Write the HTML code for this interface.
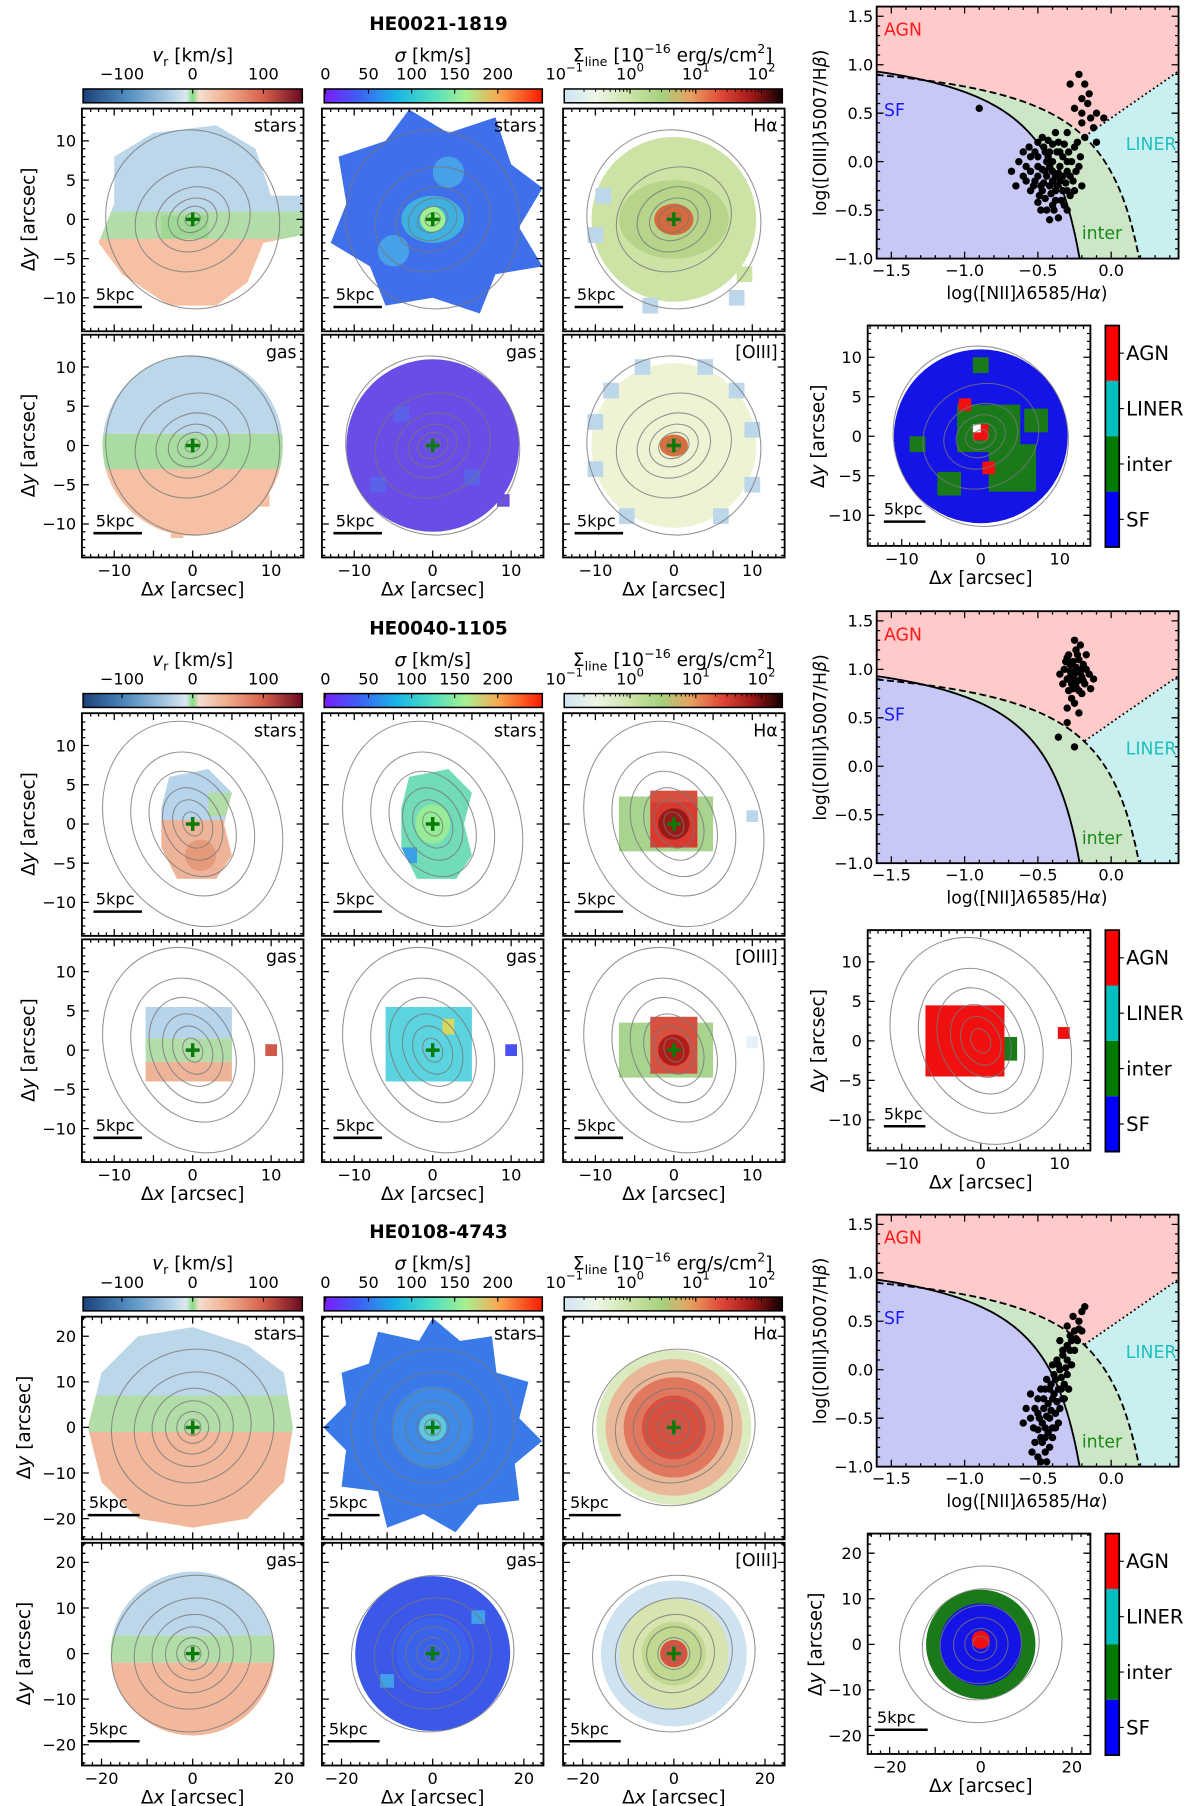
<!DOCTYPE html>
<html><head><meta charset="utf-8">
<style>
html,body{margin:0;padding:0;background:#fff;}
svg{display:block;font-family:"DejaVu Sans","Liberation Sans",sans-serif;}
</style></head>
<body>
<svg id="fig" xmlns="http://www.w3.org/2000/svg" width="1200" height="1806" viewBox="0 0 1040 1565">
<defs>
<linearGradient id="gVr" x1="0" x2="1" y1="0" y2="0">
<stop offset="0" stop-color="#1b4079"/><stop offset="0.2" stop-color="#4f8cc0"/><stop offset="0.4" stop-color="#b3d0e6"/><stop offset="0.47" stop-color="#dde9f0"/><stop offset="0.5" stop-color="#86dc86"/><stop offset="0.53" stop-color="#f6ddd0"/><stop offset="0.65" stop-color="#f0b090"/><stop offset="0.82" stop-color="#d8604c"/><stop offset="1" stop-color="#6a0a20"/>
</linearGradient>
<linearGradient id="gSig" x1="0" x2="1" y1="0" y2="0">
<stop offset="0" stop-color="#7a1cff"/><stop offset="0.15" stop-color="#3f5cf5"/><stop offset="0.33" stop-color="#18b4e6"/><stop offset="0.5" stop-color="#50e0c0"/><stop offset="0.65" stop-color="#a8f090"/><stop offset="0.8" stop-color="#f8a850"/><stop offset="1" stop-color="#ff1a00"/>
</linearGradient>
<linearGradient id="gSl" x1="0" x2="1" y1="0" y2="0">
<stop offset="0" stop-color="#cfe4f4"/><stop offset="0.15" stop-color="#eef6e6"/><stop offset="0.3" stop-color="#cde4a8"/><stop offset="0.45" stop-color="#a6d07c"/><stop offset="0.58" stop-color="#e8a060"/><stop offset="0.72" stop-color="#e04838"/><stop offset="0.86" stop-color="#a01818"/><stop offset="1" stop-color="#100000"/>
</linearGradient>
</defs>
</svg>
<script>
// ---------- data ----------
const galaxyNames = ['HE0021-1819', 'HE0040-1105', 'HE0108-4743'];
const vrTicks = [-100, 0, 100];
const sigmaTicks = [0, 50, 100, 150, 200];
const lineTicksExp = [-1, 0, 1, 2];
const bptXTicks = [-1.5, -1.0, -0.5, 0.0];
const bptYTicks = [-1.0, -0.5, 0.0, 0.5, 1.0, 1.5];
const mapTicksSmall = [-10, -5, 0, 5, 10];
const mapTicksLarge = [-20, -10, 0, 10, 20];
const classLabels = ['AGN', 'LINER', 'inter', 'SF'];
const bpt1Points = [[-0.45,-0.1],[-0.4,0],[-0.35,-0.2],[-0.5,-0.05],[-0.42,0.1],[-0.38,-0.3],[-0.3,-0.1],[-0.55,0.05],[-0.48,-0.25],[-0.33,0.05],[-0.28,-0.35],[-0.6,-0.15],[-0.4,-0.45],[-0.36,0.2],[-0.25,0.15],[-0.5,0.2],[-0.44,-0.5],[-0.32,-0.45],[-0.22,-0.05],[-0.63,0.0],[-0.3,0.3],[-0.2,0.4],[-0.25,0.55],[-0.15,0.7],[-0.18,0.25],[-0.1,0.5],[-0.28,0.8],[-0.12,0.35],[-0.36,-0.58],[-0.42,-0.6],[-0.55,-0.3],[-0.47,0.25],[-0.38,0.3],[-0.2,-0.25],[-0.58,-0.2],[-0.68,-0.1],[-0.3,-0.5],[-0.45,-0.38],[-0.4,-0.2],[-0.35,-0.05],[-0.5,-0.15],[-0.43,0.05],[-0.33,-0.3],[-0.27,0.0],[-0.23,0.2],[-0.05,0.45],[-0.16,0.6],[-0.1,0.2],[-0.22,0.9],[-0.2,0.5],[-0.9,0.55],[-0.38,-0.15],[-0.46,-0.22],[-0.41,-0.33],[-0.52,0.1],[-0.44,0.0],[-0.37,0.1],[-0.49,-0.35],[-0.31,-0.22],[-0.4,-0.1],[-0.46,0.15],[-0.34,-0.4],[-0.53,-0.25],[-0.29,0.1],[-0.39,-0.5],[-0.47,-0.08],[-0.42,-0.25],[-0.36,-0.12],[-0.5,-0.42],[-0.26,-0.2],[-0.55,-0.1],[-0.5,0.05],[-0.45,0.1],[-0.35,0.1],[-0.3,-0.3],[-0.28,-0.15],[-0.25,-0.3],[-0.4,0.18],[-0.32,0.18],[-0.52,-0.2],[-0.44,-0.15],[-0.38,-0.4],[-0.48,-0.5],[-0.6,0.1],[-0.58,-0.05],[-0.33,-0.15],[-0.42,-0.05],[-0.37,-0.25],[-0.47,-0.3],[-0.56,0.15],[-0.43,0.22],[-0.24,-0.1],[-0.21,0.05],[-0.3,0.0],[-0.65,-0.25],[-0.2,0.65],[-0.14,0.45],[-0.18,0.8]];
const bpt2Points = [[-0.25,0.95],[-0.2,1.0],[-0.3,0.9],[-0.22,1.1],[-0.28,1.05],[-0.18,0.85],[-0.26,0.8],[-0.24,1.2],[-0.32,1.0],[-0.15,0.95],[-0.2,0.75],[-0.27,0.7],[-0.23,0.88],[-0.29,1.15],[-0.21,1.25],[-0.19,1.05],[-0.33,0.85],[-0.25,0.65],[-0.14,0.8],[-0.3,0.6],[-0.25,1.3],[-0.17,1.15],[-0.35,0.95],[-0.22,0.55],[-0.3,0.45],[-0.36,0.3],[-0.25,0.2],[-0.12,0.9],[-0.28,0.98],[-0.2,0.92],[-0.24,1.02],[-0.27,0.85],[-0.22,0.78],[-0.31,1.08],[-0.26,0.9],[-0.21,0.97],[-0.23,1.15],[-0.29,0.78],[-0.26,1.08],[-0.19,0.88],[-0.24,0.82],[-0.28,0.92],[-0.17,1.0],[-0.3,1.12]];
const bpt3Points = [[-0.5,-0.9],[-0.48,-0.7],[-0.45,-0.6],[-0.42,-0.5],[-0.5,-0.45],[-0.4,-0.3],[-0.45,-0.2],[-0.38,-0.1],[-0.35,0.0],[-0.4,0.05],[-0.33,0.15],[-0.3,0.25],[-0.28,0.35],[-0.25,0.4],[-0.22,0.5],[-0.2,0.6],[-0.18,0.65],[-0.3,0.1],[-0.36,-0.2],[-0.43,-0.35],[-0.47,-0.55],[-0.52,-0.75],[-0.55,-0.5],[-0.42,-0.8],[-0.38,-0.45],[-0.33,-0.3],[-0.3,-0.05],[-0.27,0.05],[-0.25,0.2],[-0.23,0.3],[-0.2,0.4],[-0.46,-0.4],[-0.5,-0.3],[-0.4,-0.6],[-0.35,-0.4],[-0.44,-0.1],[-0.37,0.1],[-0.32,-0.15],[-0.48,-0.95],[-0.45,-0.85],[-0.53,-0.6],[-0.3,0.45],[-0.26,0.55],[-0.41,-0.15],[-0.39,-0.25],[-0.29,-0.2],[-0.55,-0.25],[-0.58,-0.4],[-0.6,-0.55],[-0.35,0.3],[-0.43,-0.65],[-0.47,-0.75],[-0.41,-0.42],[-0.37,-0.33],[-0.34,-0.08],[-0.31,0.02],[-0.28,0.2],[-0.24,0.32],[-0.5,-0.62],[-0.44,-0.48],[-0.46,-0.3],[-0.42,-0.2],[-0.39,-0.05],[-0.36,0.05],[-0.33,0.2],[-0.45,-0.7],[-0.49,-0.5],[-0.52,-0.4],[-0.4,-0.7],[-0.36,-0.55],[-0.32,-0.3],[-0.48,-0.2],[-0.44,-0.95],[-0.54,-0.85],[-0.27,0.3],[-0.22,0.42],[-0.34,-0.2],[-0.38,-0.6]];
const bptPoints = [bpt1Points, bpt2Points, bpt3Points];

// ---------- helpers ----------
const NS = 'http://www.w3.org/2000/svg';
const svg = document.getElementById('fig');
function mk(tag, attrs, parent) {
  const e = document.createElementNS(NS, tag);
  for (const k in attrs) e.setAttribute(k, attrs[k]);
  (parent || svg).appendChild(e);
  return e;
}
function txt(str, attrs, parent) { const e = mk('text', attrs, parent); e.textContent = str; return e; }
const minus = s => String(s).replace('-', '\u2212');
const FS = 14;
let clipId = 0;

// ---------- map panels ----------
const offsets = [0, 524, 1047];
const colX = [71, 279, 488];
const PW = 192, PH = 193;
const scales = [6.8, 6.8, 3.95];
const contours = [
  [[1,0.8],[2,1.6],[3.2,2.6],[4.8,4],[7.5,6.5],[11,11.5]],
  [[1.2,1.6],[2.4,3.2],[3.6,4.8],[5.2,7],[7.5,9.5],[11,13.5]],
  [[1.8,1.8],[3.5,3.5],[6,5.8],[9,8.5],[13,12],[18,17]]
];
const bigStar = [[-20,12],[-14,14],[-12,21],[-3,19],[0,24],[6,19],[13,20],[14,12],[21,10],[19,2],[24,-3],[18,-8],[19,-16],[10,-17],[5,-23],[-2,-19],[-10,-22],[-12,-14],[-20,-13],[-19,-5],[-24,0],[-19,5]];
const content = [
 [ // G1
  [ {clip:['poly',[[-10,8],[-5,11],[3,12],[8,9],[10,3],[14,3],[14,-2],[9,-3],[7,-8],[3,-11],[-3,-11],[-9,-7],[-12,-3],[-10,2]]],
     items:[['band',1,40,'#bcd6ea'],['band',-2.5,1,'#b2dca8'],['band',-40,-2.5,'#f5c0a4'],['sq',-1,-1,6,3,'#9fd894']]},
    {clip:['poly',[[-12,8],[-6,10],[-3,14],[2,11],[8,13],[10,7],[14,4],[11,-1],[14,-6],[8,-7],[6,-12],[0,-10],[-6,-11],[-8,-6],[-13,-3],[-11,2]]],
     items:[['band',-40,40,'#3f6fea'],['ell',0,0,4,3,'#40b0e0'],['ell',0,0,1.6,1.6,'#a0f090'],['ell',-5,-4,2,2,'#48a0e8'],['ell',2,6,2,2,'#48a0e8']]},
    {clip:['circ',10.5],
     items:[['band',-40,40,'#cde3a6'],['ell',0,0,7,5,'#b6d48a'],['ell',0,0,2.5,2,'#d66a3c'],['usq',-10,-2,2,2,'#bdd6ea'],['usq',-9,3,2,2,'#bdd6ea'],['usq',8,-10,2,2,'#bdd6ea'],['usq',-3,-11,2,2,'#bdd6ea'],['usq',9,-7,2,2,'#cde3a6']]} ],
  [ {clip:['circ',11.5],
     items:[['band',1.5,40,'#bcd6ea'],['band',-3,1.5,'#a8dca0'],['band',-40,-3,'#f5c0a4'],['usq',9,-7,1.6,1.6,'#f5c0a4'],['usq',-2,-11,1.6,1.6,'#f5c0a4']]},
    {clip:['circ',11],
     items:[['band',-40,40,'#6a4ce6'],['sq',-4,4,2,2,'#5a62ea'],['sq',5,-4,2,2,'#5a62ea'],['sq',-7,-5,2,2,'#5a62ea'],['usq',9,-7,1.6,1.6,'#6a4ce6']]},
    {clip:['circ',10.5],
     items:[['band',-40,40,'#eef3d4'],['ell',0,0,1.8,1.4,'#d6703e'],['usq',-8,7,2,2,'#bcd6ea'],['usq',-4,10,2,2,'#bcd6ea'],['usq',4,10,2,2,'#bcd6ea'],['usq',8,7,2,2,'#bcd6ea'],['usq',10,2,2,2,'#bcd6ea'],['usq',10,-5,2,2,'#bcd6ea'],['usq',6,-9,2,2,'#bcd6ea'],['usq',-6,-9,2,2,'#bcd6ea'],['usq',-10,-3,2,2,'#bcd6ea'],['usq',-10,3,2,2,'#bcd6ea']]} ]
 ],
 [ // G2
  [ {clip:['poly',[[-3,6],[2,7],[5,4],[4,0],[5,-4],[3,-7],[-2,-7],[-4,-3],[-4,2]]],
     items:[['band',0.5,40,'#b8d4ea'],['band',-40,0.5,'#eeb49a'],['sq',4,2.5,4,3,'#b2dca8'],['ell',1,-4,2,2,'#e59a7c']]},
    {clip:['poly',[[-3,6],[2,7],[5,4],[4,0],[5,-4],[3,-7],[-2,-7],[-4,-3],[-4,2]]],
     items:[['band',-40,40,'#72dcb8'],['ell',0,0,2.2,2.5,'#98ec98'],['sq',-3,-4,2,2,'#3aa0e8']]},
    {clip:['rect',-7,-3.5,5,3.5],
     items:[['band',-40,40,'#a8d490'],['sq',0,0.5,6,7,'#d83a30'],['ell',0,0,2,2,'#9a1a18'],['usq',10,1,1.5,1.5,'#bcd6ea'],['usq',0,3.5,6,1.5,'#d85040']]} ],
  [ {clip:['rect',-6,-4,5,5.5],
     items:[['band',1.5,40,'#b8d4ea'],['band',-1.5,1.5,'#b2dca8'],['band',-40,-1.5,'#eeb49a'],['usq',10,0,1.5,1.5,'#d05848']]},
    {clip:['rect',-6,-4,5,5.5],
     items:[['band',-40,40,'#5cd4e0'],['sq',2,3,1.5,2,'#d8d860'],['usq',10,0,1.5,1.5,'#4a50f0']]},
    {clip:['rect',-7,-3.5,5,3.5],
     items:[['band',-40,40,'#a8d490'],['sq',0,0.5,6,7,'#d85040'],['ell',0,0,2,2,'#b01c18'],['usq',0,3.5,6,1.5,'#d85040'],['usq',10,1,1.5,1.5,'#e6f0f6']]} ]
 ],
 [ // G3
  [ {clip:['poly',[[-20,12],[-12,20],[0,22],[12,18],[20,12],[22,0],[20,-12],[12,-20],[0,-22],[-12,-20],[-20,-12],[-23,0]]],
     items:[['band',7,40,'#bcd6ea'],['band',-1,7,'#b2dca8'],['band',-40,-1,'#f2b89c']]},
    {clip:['poly',bigStar],
     items:[['band',-40,40,'#3a7ae8'],['ell',0,0,9,9,'#3f8ae6'],['ell',0,0,3,3,'#60c8d8']]},
    {clip:['circ',17],
     items:[['band',-40,40,'#dceac0'],['ell',0,0,15,15,'#e9b898'],['ell',0,0,11,11,'#e07860'],['ell',0,0,7,7,'#d85040']]} ],
  [ {clip:['circ',18],
     items:[['band',4,40,'#bcd6ea'],['band',-2,4,'#b2dca8'],['band',-40,-2,'#f2b89c']]},
    {clip:['circ',17],
     items:[['band',-40,40,'#3c58e8'],['ell',0,0,8,8,'#3a62ea'],['sq',10,8,3,3,'#40a0e8'],['sq',-10,-6,3,3,'#40a0e8']]},
    {clip:['circ',17],
     items:[['band',-40,40,'#ffffff'],['ell',0,0,16,16,'#cfe2ef'],['ell',0,0,12,12,'#d8e4b0'],['ell',0,0,7,7,'#c0d890'],['ell',0,0,3,3,'#d85040']]} ]
 ]
];
const rightContent = [
  {clip:['circ',11], items:[['band',-40,40,'#1414e6'],['sq',1,1,8,6,'#1a7a1a'],['sq',4,-4,6,6,'#1a7a1a'],['sq',-4,-6,3,3,'#1a7a1a'],['sq',7,2,3,3,'#1a7a1a'],['sq',0,9,2,2,'#1a7a1a'],['sq',-8,-1,2,2,'#1a7a1a'],['sq',-2,4,1.6,1.6,'#f01010'],['sq',1,-4,1.6,1.6,'#f01010'],['sq',0,0.5,2,2,'#f01010'],['sq',-0.5,1,1,1,'#ffffff']]},
  {clip:['rect',-7,-4.5,3,4.5], items:[['band',-40,40,'#f01010'],['usq',3.8,-1,1.6,3,'#1a7a1a'],['usq',10.5,1,1.5,1.5,'#f01010']]},
  {clip:['circ',12], items:[['band',-40,40,'#1a7a1a'],['ell',0,0,9,9,'#1414e6'],['ell',0,1,2,2,'#f01010']]}
];

function drawMapContent(g, spec, px, py, s, px0, py0, w, h) {
  clipId++;
  const cp = mk('clipPath', {id: 'cp' + clipId}, g);
  const c = spec.clip;
  if (c[0] === 'circ') mk('circle', {cx: px(0), cy: py(0), r: c[1] * s}, cp);
  else if (c[0] === 'poly') mk('polygon', {points: c[1].map(p => px(p[0]) + ',' + py(p[1])).join(' ')}, cp);
  else mk('rect', {x: px(c[1]), y: py(c[4]), width: (c[3] - c[1]) * s, height: (c[4] - c[2]) * s}, cp);
  const inner = mk('g', {'clip-path': 'url(#cp' + clipId + ')'}, g);
  
  
  spec.items.forEach(it => {
    let e;
    if (it[0] === 'band') {
      e = mk('rect', {x: px0, y: Math.max(py0, py(it[2])), width: w, height: Math.max(0, Math.min(py0 + h, py(it[1])) - Math.max(py0, py(it[2]))), fill: it[3]}, inner);
    } else if (it[0] === 'sq' || it[0] === 'usq') {
      e = mk('rect', {x: px(it[1] - it[3] / 2), y: py(it[2] + it[4] / 2), width: it[3] * s, height: it[4] * s, fill: it[5]}, it[0] === 'sq' ? inner : g);
    } else {
      e = mk('ellipse', {cx: px(it[1]), cy: py(it[2]), rx: it[3] * s, ry: it[4] * s, fill: it[5]}, inner);
    }
    
    
  });
}

function drawContours(g, list, px, py, s) {
  list.forEach(r => {
    const e = mk('ellipse', {cx: px(0), cy: py(0), rx: r[0] * s, ry: r[1] * s, fill: 'none', stroke: '#777', 'stroke-width': 0.9, opacity: 0.8, transform: 'rotate(-25 ' + px(0) + ' ' + py(0) + ')'}, g);
    
    
  });
}

function mapFrame(g, x0, y0, w, h, px, py, ticks, minorStep, lim, showX, showY) {
  const fr = mk('rect', {x: x0, y: y0, width: w, height: h, fill: 'none', stroke: '#000', 'stroke-width': 1.6}, g);
  
  
  let d = '';
  for (let v = -lim; v <= lim + 0.001; v += minorStep) {
    const major = ticks.indexOf(Math.round(v)) >= 0 && Math.abs(v - Math.round(v)) < 0.01;
    const L = major ? 6 : 3;
    const X = px(v), Y = py(v);
    if (X > x0 + 1 && X < x0 + w - 1) d += `M${X},${y0}v${L}M${X},${y0 + h}v${-L}`;
    if (Y > y0 + 1 && Y < y0 + h - 1) d += `M${x0},${Y}h${L}M${x0 + w},${Y}h${-L}`;
  }
  const tk = mk('path', {d: d, stroke: '#000', 'stroke-width': 1.1, fill: 'none'}, g);
  
  
  ticks.forEach((t, i) => {
    if (showX && (ticks.length === 3 || i % 2 === 0)) {
      const lab = txt(minus(t), {x: px(t), y: y0 + h + 16, 'font-size': FS, 'text-anchor': 'middle'}, g);
      
      
    }
    if (showY) {
      const lab = txt(minus(t), {x: x0 - 5, y: py(t) + 5, 'font-size': FS, 'text-anchor': 'end'}, g);
      
      
    }
  });
}

function colorbar(g, x0, y, w, grad, ticks, tx, labels) {
  const r = mk('rect', {x: x0, y: y, width: w, height: 12, fill: 'url(#' + grad + ')', stroke: '#000', 'stroke-width': 1.3}, g);
  
  
  ticks.forEach((t, i) => {
    const tl = mk('line', {x1: tx(t), x2: tx(t), y1: y, y2: y + 4, stroke: '#000', 'stroke-width': 1}, g);
    
    
    const lab = txt('', {x: tx(t), y: y - 8, 'font-size': FS, 'text-anchor': 'middle'}, g);
    lab.innerHTML = labels(t);
    
    
  });
}

offsets.forEach((o, gi) => {
  const G = mk('g', {});
  
  
  const title = txt(galaxyNames[gi], {x: 380, y: 26 + o, 'font-size': 16, 'font-weight': 'bold', 'text-anchor': 'middle'}, G);
  
  
  const s = scales[gi];
  const ticks = gi === 2 ? mapTicksLarge : mapTicksSmall;
  const lim = gi === 2 ? 24 : 14;
  const minorStep = gi === 2 ? 2 : 1;

  const t1 = txt('', {x: 167, y: 53 + o, 'font-size': 16, 'text-anchor': 'middle'}, G);
  t1.innerHTML = '<tspan font-style="italic">v</tspan><tspan font-size="11" dy="4">r</tspan><tspan dy="-4"> [km/s]</tspan>';
  
  
  const t2 = txt('', {x: 375, y: 53 + o, 'font-size': 16, 'text-anchor': 'middle'}, G);
  t2.innerHTML = '<tspan font-style="italic">σ</tspan> [km/s]';
  
  
  const t3 = txt('', {x: 583, y: 53 + o, 'font-size': 16, 'text-anchor': 'middle'}, G);
  t3.innerHTML = 'Σ<tspan font-size="11" dy="4">line</tspan><tspan dy="-4"> [10</tspan><tspan font-size="11" dy="-7">−16</tspan><tspan dy="7"> erg/s/cm</tspan><tspan font-size="11" dy="-7">2</tspan><tspan dy="7">]</tspan>';
  
  

  colorbar(G, 72, 77 + o, 190, 'gVr', vrTicks, v => 167 + v * 190 / 310, v => minus(v));
  colorbar(G, 281, 77 + o, 189, 'gSig', sigmaTicks, v => 282 + v * 0.747, v => String(v));
  colorbar(G, 489, 77 + o, 189, 'gSl', lineTicksExp, v => 489 + (v + 1) * 57, v => '10<tspan font-size="10" dy="-7">' + minus(v) + '</tspan>');
  let md = '';
  for (let dcd = -1; dcd < 2.3; dcd++) for (let k = 2; k < 10; k++) {
    const v = dcd + Math.log10(k);
    if (v < 2.3) md += `M${489 + (v + 1) * 57},${77 + o}v2.5`;
  }
  const mt = mk('path', {d: md, stroke: '#000', 'stroke-width': 0.8}, G);
  
  

  const rowNames = ['stars', 'gas'];
  const colLabels = [['stars', 'stars', 'Hα'], ['gas', 'gas', '[OIII]']];
  for (let r = 0; r < 2; r++) {
    const y0 = 94 + o + r * 196;
    for (let c = 0; c < 3; c++) {
      const x0 = colX[c];
      const P = mk('g', {});
      
      
      G.appendChild(P);
      const cx = x0 + 96, cy = y0 + 96;
      const px = v => cx + s * v, py = v => cy - s * v;
      drawMapContent(P, content[gi][r][c], px, py, s, x0, y0, PW, PH);
      drawContours(P, contours[gi], px, py, s);
      const cross = mk('path', {d: `M${cx - 6},${cy}h12M${cx},${cy - 6}v12`, stroke: '#0a7a0a', 'stroke-width': 3}, P);
      
      
      const lb = txt(colLabels[r][c], {x: x0 + PW - 6, y: y0 + 20, 'font-size': 15, 'text-anchor': 'end'}, P);
      
      
      const sb = txt('5kpc', {x: x0 + (gi === 2 ? 6 : 12), y: y0 + 166, 'font-size': 14}, P);
      
      
      const sl = mk('line', {x1: x0 + (gi === 2 ? 5 : 10), x2: x0 + (gi === 2 ? 50 : 52), y1: y0 + 172, y2: y0 + 172, stroke: '#000', 'stroke-width': 2.2}, P);
      
      
      mapFrame(P, x0, y0, PW, PH, px, py, ticks, minorStep, lim, r === 1, c === 0);
      if (r === 1) {
        const xl = txt('', {x: cx, y: y0 + PH + 33, 'font-size': 16, 'text-anchor': 'middle'}, P);
        xl.innerHTML = 'Δ<tspan font-style="italic">x</tspan> [arcsec]';
        
        
      }
      if (c === 0) {
        const yl = txt('', {x: 0, y: 0, 'font-size': 16, 'text-anchor': 'middle', transform: `translate(${gi === 2 ? 26 : 30},${cy}) rotate(-90)`}, P);
        yl.innerHTML = 'Δ<tspan font-style="italic">y</tspan> [arcsec]';
        
        
      }
    }
  }

  // ---------- BPT diagram ----------
  const B = mk('g', {});
  
  
  const bx = v => 963 + 127 * v, by = v => 140 + o - 84 * v;
  const xL = -1.6, xR = 0.46, yB = -1.0, yT = 1.6;
  clipId++;
  const bcp = mk('clipPath', {id: 'cp' + clipId}, B);
  mk('rect', {x: bx(xL), y: by(yT), width: bx(xR) - bx(xL), height: by(yB) - by(yT)}, bcp);
  const BG = mk('g', {'clip-path': 'url(#cp' + clipId + ')'}, B);
  const agn = mk('rect', {x: bx(xL), y: by(yT), width: bx(xR) - bx(xL), height: by(yB) - by(yT), fill: '#ffcaca'}, BG);
  
  
  const liner = mk('polygon', {points: [[-1.38, -1], [0.46, 0.933], [0.46, -1]].map(p => bx(p[0]) + ',' + by(p[1])).join(' '), fill: '#c8f0f0'}, BG);
  
  
  const kew = x => 0.61 / (x - 0.47) + 1.19, kau = x => 0.61 / (x - 0.05) + 1.3;
  function curvePts(f, x1, x2) { const a = []; for (let i = 0; i <= 80; i++) { const x = x1 + (x2 - x1) * i / 80; a.push([x, f(x)]); } return a; }
  const kewPts = curvePts(kew, xL, 0.19), kauPts = curvePts(kau, xL, -0.215);
  const inter = mk('polygon', {points: kewPts.concat([[0.19, -1], [xL, -1]]).map(p => bx(p[0]) + ',' + by(p[1])).join(' '), fill: '#cde6c8'}, BG);
  
  
  const sf = mk('polygon', {points: kauPts.concat([[-0.215, -1], [xL, -1]]).map(p => bx(p[0]) + ',' + by(p[1])).join(' '), fill: '#c8c8f6'}, BG);
  
  
  const kauL = mk('polyline', {points: kauPts.map(p => bx(p[0]) + ',' + by(p[1])).join(' '), fill: 'none', stroke: '#000', 'stroke-width': 1.6}, BG);
  
  
  const kewL = mk('polyline', {points: kewPts.map(p => bx(p[0]) + ',' + by(p[1])).join(' '), fill: 'none', stroke: '#000', 'stroke-width': 1.6, 'stroke-dasharray': '6,3'}, BG);
  
  
  const dot = mk('line', {x1: bx(-0.18), y1: by(1.05 * -0.18 + 0.45), x2: bx(0.46), y2: by(1.05 * 0.46 + 0.45), stroke: '#000', 'stroke-width': 1.6, 'stroke-dasharray': '1.5,2.5'}, BG);
  
  
  bptPoints[gi].forEach(p => {
    const c = mk('circle', {cx: bx(p[0]), cy: by(p[1]), r: 3.2, fill: '#000'}, BG);
    
    
  });
  [['AGN', -1.55, 1.3, '#ff1a1a'], ['SF', -1.55, 0.47, '#1a1aff'], ['LINER', 0.1, 0.12, '#20c0c0'], ['inter', -0.2, -0.8, '#1a8a1a']].forEach(l => {
    const t = txt(l[0], {x: bx(l[1]), y: by(l[2]), 'font-size': 15, fill: l[3]}, BG);
    
    
  });
  const bfr = mk('rect', {x: bx(xL), y: by(yT), width: bx(xR) - bx(xL), height: by(yB) - by(yT), fill: 'none', stroke: '#000', 'stroke-width': 1.6}, B);
  
  
  let bd = '';
  for (let v = -1.5; v <= 0.45; v += 0.1) { const L = Math.abs(v * 2 - Math.round(v * 2)) < 0.01 ? 6 : 3; bd += `M${bx(v)},${by(yB)}v${-L}M${bx(v)},${by(yT)}v${L}`; }
  for (let v = -0.9; v <= 1.55; v += 0.1) { const L = Math.abs(v * 2 - Math.round(v * 2)) < 0.01 ? 6 : 3; bd += `M${bx(xL)},${by(v)}h${L}M${bx(xR)},${by(v)}h${-L}`; }
  const btk = mk('path', {d: bd, stroke: '#000', 'stroke-width': 1.1}, B);
  
  
  bptXTicks.forEach(t => {
    const l = txt(minus(t.toFixed(1)), {x: bx(t), y: by(yB) + 15, 'font-size': FS, 'text-anchor': 'middle'}, B);
    
    
  });
  bptYTicks.forEach(t => {
    const l = txt(minus(t.toFixed(1)), {x: bx(xL) - 3, y: by(t) + 5, 'font-size': FS, 'text-anchor': 'end'}, B);
    
    
  });
  const bxl = txt('', {x: 890, y: 259 + o, 'font-size': 15, 'text-anchor': 'middle'}, B);
  bxl.innerHTML = 'log([NII]<tspan font-style="italic">λ</tspan>6585/H<tspan font-style="italic">α</tspan>)';
  
  
  const byl = txt('', {x: 0, y: 0, 'font-size': 15, 'text-anchor': 'middle', transform: `translate(716,${115 + o}) rotate(-90)`}, B);
  byl.innerHTML = 'log([OIII]<tspan font-style="italic">λ</tspan>5007/H<tspan font-style="italic">β</tspan>)';
  
  

  // ---------- classification map ----------
  const M = mk('g', {});
  
  
  const mx0 = 752, my0 = 282 + o, mw = 193, mh = 191;
  const ms = gi === 2 ? 3.95 : 6.85;
  const mpx = v => 850 + ms * v, mpy = v => 378 + o - ms * v;
  drawMapContent(M, rightContent[gi], mpx, mpy, ms, mx0, my0, mw, mh);
  drawContours(M, contours[gi], mpx, mpy, ms);
  const msb = txt('5kpc', {x: mx0 + (gi === 2 ? 8 : 14), y: my0 + 164, 'font-size': 14}, M);
  
  
  const msl = mk('line', {x1: mx0 + (gi === 2 ? 6 : 14), x2: mx0 + (gi === 2 ? 52 : 50), y1: my0 + 170, y2: my0 + 170, stroke: '#000', 'stroke-width': 2.2}, M);
  
  
  mapFrame(M, mx0, my0, mw, mh, mpx, mpy, ticks, minorStep, lim, true, true);
  const mxl = txt('', {x: 850, y: my0 + mh + 33, 'font-size': 16, 'text-anchor': 'middle'}, M);
  mxl.innerHTML = 'Δ<tspan font-style="italic">x</tspan> [arcsec]';
  
  
  const myl = txt('', {x: 0, y: 0, 'font-size': 16, 'text-anchor': 'middle', transform: `translate(${gi === 2 ? 712 : 714},${378 + o}) rotate(-90)`}, M);
  myl.innerHTML = 'Δ<tspan font-style="italic">y</tspan> [arcsec]';
  
  
  const segCols = ['#ff0000', '#00bfbf', '#007a00', '#0000ff'];
  classLabels.forEach((lab, i) => {
    const seg = mk('rect', {x: 958, y: 282 + o + i * 48, width: 12, height: 48, fill: segCols[i]}, M);
    
    
    const tk = mk('line', {x1: 970, x2: 974, y1: 306 + o + i * 48, y2: 306 + o + i * 48, stroke: '#000'}, M);
    
    
    const tl = txt(lab, {x: 976, y: 312 + o + i * 48, 'font-size': 17}, M);
    
    
  });
  const cbf = mk('rect', {x: 958, y: 282 + o, width: 12, height: 192, fill: 'none', stroke: '#000', 'stroke-width': 1.5}, M);
  
  
});
</script>
</body></html>
